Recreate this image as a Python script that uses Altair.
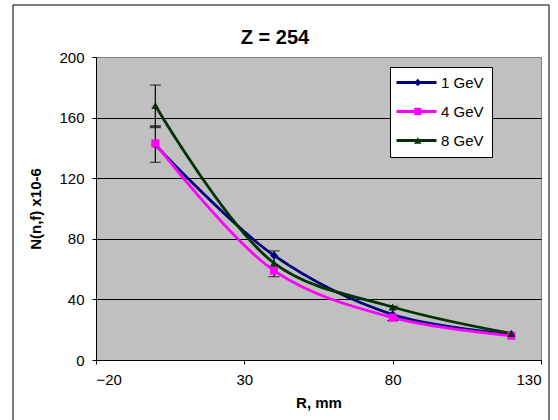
import altair as alt
import pandas as pd

# Radius (mm) and measured yields N(n,f) x10-6 for each beam energy
r_mm = [0, 40, 80, 120]
series_names = ["1 GeV", "4 GeV", "8 GeV"]
n_1gev = [142, 69, 30, 17]
n_4gev = [143, 59, 28, 16]
n_8gev = [168, 64, 35, 17.5]

# Error bars (lower / upper) and the central mark at R = 0
err_r = [0, 40, 80]
err_lo = [130.5, 55, 26]
err_hi = [181.5, 72, 35.5]
mid_r = [0]
mid_n = [154]

x_ticks = [-20, 30, 80, 130]
y_ticks = [0, 40, 80, 120, 160, 200]

chart_title = "Z = 254"

colors = ["#000080", "#FF00FF", "#003300"]
shapes = ["diamond", "square", "triangle-up"]
FONT = "Liberation Sans"

rows = []
for name, vals in zip(series_names, [n_1gev, n_4gev, n_8gev]):
    for r, v in zip(r_mm, vals):
        rows.append({"R": r, "N": v, "series": name})
df = pd.DataFrame(rows)

err_df = pd.DataFrame({"R": err_r, "lo": err_lo, "hi": err_hi})
cap_df = pd.DataFrame({"R": err_r + err_r, "N": err_lo + err_hi})
mid_df = pd.DataFrame({"R": mid_r, "N": mid_n})

x_enc = alt.X(
    "R:Q",
    scale=alt.Scale(domain=[-20, 130], nice=False),
    axis=alt.Axis(
        values=x_ticks, title="R, mm", grid=False, tickSize=4,
        labelPadding=8, titlePadding=8,
    ),
)
y_enc = alt.Y(
    "N:Q",
    scale=alt.Scale(domain=[0, 200], nice=False),
    axis=alt.Axis(
        values=y_ticks, title="N(n,f) x10-6", grid=True, tickSize=4,
        labelPadding=8, titlePadding=15,
        gridColor={"condition": {"test": "datum.value === 200", "value": "transparent"},
                   "value": "#000000"},
    ),
)

line_legend = alt.Legend(
    title=None, orient="none", legendX=294, legendY=10,
    fillColor="white", strokeColor="black", padding=8,
    symbolType="M-4,0L4,0", symbolSize=100, symbolStrokeWidth=3,
    symbolOffset=11, labelOffset=17, rowPadding=13,
    labelFont=FONT, labelFontSize=15, labelColor="black", zindex=0,
)
marker_legend = alt.Legend(
    title=None, orient="none", legendX=294, legendY=10,
    padding=8, symbolSize=55, symbolOffset=12.3, labelOffset=17,
    rowPadding=13, labelFont=FONT, labelFontSize=15, labelOpacity=0,
    symbolStrokeWidth=1, zindex=1,
)

color_scale = alt.Scale(domain=series_names, range=colors)
shape_scale = alt.Scale(domain=series_names, range=shapes)

lines = alt.Chart(df).mark_line(strokeWidth=2.8, interpolate="catmull-rom").encode(
    x=x_enc, y=y_enc,
    color=alt.Color("series:N", scale=color_scale, legend=line_legend),
)

points = alt.Chart(df).mark_point(filled=True, size=65, opacity=1).encode(
    x="R:Q", y="N:Q",
    color=alt.Color("series:N", scale=color_scale, legend=marker_legend),
    shape=alt.Shape("series:N", scale=shape_scale, legend=marker_legend),
)

err_rules = alt.Chart(err_df).mark_rule(color="black", strokeWidth=1.2).encode(
    x="R:Q", y="lo:Q", y2="hi:Q"
)
err_caps = alt.Chart(cap_df).mark_tick(
    color="black", orient="horizontal", size=11, thickness=1.2
).encode(x="R:Q", y="N:Q")
err_mid = alt.Chart(mid_df).mark_tick(
    color="black", orient="horizontal", size=11, thickness=3
).encode(x="R:Q", y="N:Q")

# Outer frame around the whole figure
frame = alt.Chart(pd.DataFrame({"k": [0]})).mark_rect(
    fill=None, stroke="black", strokeWidth=1
).encode(
    x=alt.value(-83), x2=alt.value(453), y=alt.value(-52), y2=alt.value(370)
)

# Chart heading, placed above the plot area inside the frame
heading = alt.Chart(pd.DataFrame({"t": [chart_title]})).mark_text(
    font=FONT, fontSize=20, fontWeight="bold", color="black",
    align="center", baseline="alphabetic",
).encode(text="t:N", x=alt.value(179), y=alt.value(-13))

chart = (
    alt.layer(frame, heading, lines, err_rules, err_caps, err_mid, points)
    .resolve_scale(color="independent", shape="independent")
    .properties(
        width=445, height=303,
        autosize=alt.AutoSizeParams(type="none"),
        padding={"left": 96, "top": 57, "right": 17, "bottom": 60},
        background="white",
    )
    .configure_view(fill="#C0C0C0", stroke="#808080", strokeWidth=1)
    .configure_axis(
        domainColor="black", tickColor="black", labelColor="black",
        labelFont=FONT, labelFontSize=15, titleFont=FONT, titleFontSize=15,
        titleFontWeight="bold", titleColor="black", gridWidth=1,
    )
)

chart.save("out.html", embed_options={"renderer": "svg", "actions": False})
